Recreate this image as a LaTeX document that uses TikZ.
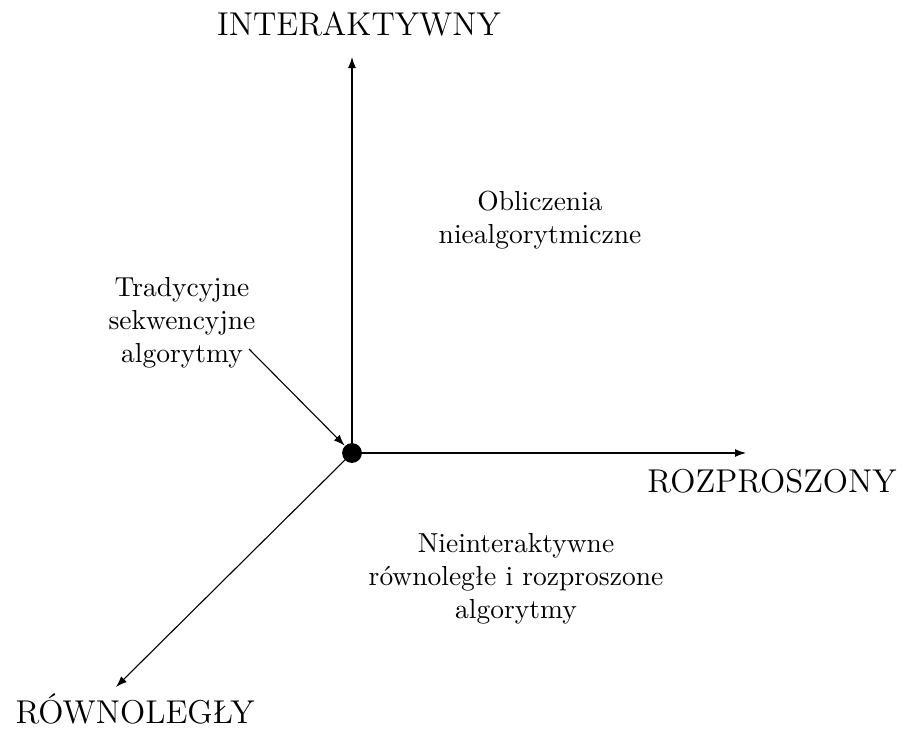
\documentclass[tikz,border=0pt]{standalone}
\usepackage{fontspec}
\usetikzlibrary{arrows.meta}
\begin{document}
\begin{tikzpicture}[x=0.3636pt,y=-0.3636pt,
  axis/.style={line width=0.4pt,-{Latex[length=4pt,width=2.9pt]}},
  axislabel/.style={font=\large,inner sep=0pt,anchor=base},
  region/.style={align=center,inner sep=0pt},
  origin/.style={circle,fill=black,inner sep=0pt,minimum size=7.2pt}]
  \useasboundingbox (0,0) rectangle (905,731);
  % origin of the three axes
  \node[origin] (o) at (352,453) {};
  % free ends of the axes
  \coordinate (ytip) at (352,57);
  \coordinate (xtip) at (746,453);
  \coordinate (ztip) at (116,687);
  \coordinate (tstart) at (249,349);
  \draw[axis] (o.center) -- (ytip);
  \draw[axis] (o.center) -- (xtip);
  \draw[axis] (o.center) -- (ztip);
  % axis labels
  \node[axislabel] (ylab) at (359,35) {INTERAKTYWNY};
  \node[axislabel] (xlab) at (772,492) {ROZPROSZONY};
  \node[axislabel,anchor=base west] (zlab) at (15,723) {RÓWNOLEGŁY};
  % regions
  \node[region] (nonalg) at (540,220) {Obliczenia\\niealgorytmiczne};
  \node[region] (trad) at (182,323) {Tradycyjne\\sekwencyjne\\algorytmy};
  \node[region] (par) at (516,579) {Nieinteraktywne\\równoległe i rozproszone\\algorytmy};
  \draw[axis] (tstart) -- (o);
\end{tikzpicture}
\end{document}
